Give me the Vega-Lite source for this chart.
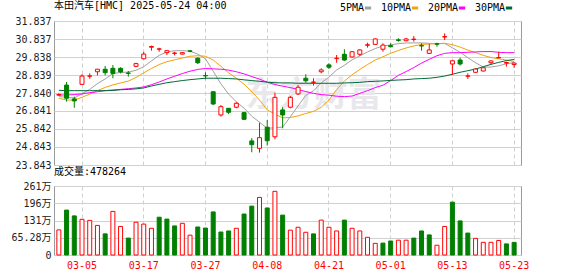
{
  "$schema": "https://vega.github.io/schema/vega-lite/v6.json",
  "background": "#ffffff",
  "padding": {"left": 10, "top": 0, "right": 5, "bottom": 0},
  "bounds": "flush",
  "spacing": 21,
  "datasets": {
    "k": [
      {"d":"02-28","o":27.72,"h":27.82,"l":27.68,"c":27.76,"v":950000,"vd":"up","5PMA":27.64,"10PMA":27.55,"20PMA":27.73,"30PMA":27.99},
      {"d":"03-03","o":28.28,"h":28.45,"l":27.36,"c":27.55,"v":1700000,"vd":"down","5PMA":27.60,"10PMA":27.45,"20PMA":27.73,"30PMA":27.97},
      {"d":"03-04","o":27.51,"h":27.64,"l":27.02,"c":27.40,"v":1480000,"vd":"down","5PMA":27.56,"10PMA":27.45,"20PMA":27.75,"30PMA":27.97},
      {"d":"03-05","o":28.32,"h":28.88,"l":28.30,"c":28.78,"v":1350000,"vd":"up","5PMA":27.80,"10PMA":27.60,"20PMA":27.79,"30PMA":27.97},
      {"d":"03-06","o":28.77,"h":28.93,"l":28.63,"c":28.79,"v":1310000,"vd":"up","5PMA":28.04,"10PMA":27.78,"20PMA":27.86,"30PMA":27.97},
      {"d":"03-07","o":29.02,"h":29.17,"l":28.82,"c":29.16,"v":1120000,"vd":"up","5PMA":28.36,"10PMA":27.97,"20PMA":27.91,"30PMA":27.97},
      {"d":"03-10","o":29.16,"h":29.34,"l":28.82,"c":28.97,"v":800000,"vd":"down","5PMA":28.62,"10PMA":28.15,"20PMA":27.97,"30PMA":27.97},
      {"d":"03-11","o":29.21,"h":29.39,"l":28.66,"c":28.93,"v":1650000,"vd":"up","5PMA":28.92,"10PMA":28.29,"20PMA":28.01,"30PMA":27.98},
      {"d":"03-12","o":29.21,"h":29.27,"l":28.93,"c":29.01,"v":1080000,"vd":"up","5PMA":28.98,"10PMA":28.40,"20PMA":28.04,"30PMA":28.02},
      {"d":"03-13","o":28.95,"h":29.06,"l":28.75,"c":28.93,"v":640000,"vd":"down","5PMA":29.00,"10PMA":28.50,"20PMA":28.08,"30PMA":28.04},
      {"d":"03-14","o":29.32,"h":29.52,"l":29.27,"c":29.47,"v":1240000,"vd":"up","5PMA":29.10,"10PMA":28.70,"20PMA":28.12,"30PMA":28.07},
      {"d":"03-17","o":29.74,"h":30.12,"l":29.71,"c":30.00,"v":1170000,"vd":"up","5PMA":29.30,"10PMA":28.96,"20PMA":28.18,"30PMA":28.12},
      {"d":"03-18","o":30.38,"h":30.47,"l":30.19,"c":30.42,"v":1010000,"vd":"up","5PMA":29.62,"10PMA":29.20,"20PMA":28.30,"30PMA":28.23},
      {"d":"03-19","o":30.27,"h":30.35,"l":30.13,"c":30.29,"v":1430000,"vd":"down","5PMA":29.93,"10PMA":29.42,"20PMA":28.45,"30PMA":28.32},
      {"d":"03-20","o":30.08,"h":30.23,"l":29.95,"c":30.19,"v":1360000,"vd":"down","5PMA":30.12,"10PMA":29.58,"20PMA":28.62,"30PMA":28.41},
      {"d":"03-21","o":30.04,"h":30.13,"l":29.93,"c":30.06,"v":1100000,"vd":"down","5PMA":30.19,"10PMA":29.68,"20PMA":28.77,"30PMA":28.47},
      {"d":"03-24","o":30.00,"h":30.10,"l":29.98,"c":30.08,"v":1200000,"vd":"up","5PMA":30.19,"10PMA":29.78,"20PMA":28.92,"30PMA":28.53},
      {"d":"03-25","o":30.18,"h":30.23,"l":30.10,"c":30.16,"v":750000,"vd":"up","5PMA":30.16,"10PMA":29.88,"20PMA":29.05,"30PMA":28.58},
      {"d":"03-26","o":29.77,"h":29.82,"l":29.45,"c":29.52,"v":1060000,"vd":"down","5PMA":30.00,"10PMA":29.91,"20PMA":29.15,"30PMA":28.62},
      {"d":"03-27","o":28.81,"h":28.99,"l":28.60,"c":28.79,"v":1020000,"vd":"down","5PMA":29.74,"10PMA":29.88,"20PMA":29.20,"30PMA":28.66},
      {"d":"03-28","o":27.91,"h":27.93,"l":27.17,"c":27.23,"v":1630000,"vd":"down","5PMA":29.05,"10PMA":29.67,"20PMA":29.18,"30PMA":28.66},
      {"d":"03-31","o":26.62,"h":27.17,"l":26.53,"c":27.08,"v":870000,"vd":"down","5PMA":28.35,"10PMA":29.32,"20PMA":29.16,"30PMA":28.66},
      {"d":"04-01","o":26.99,"h":27.00,"l":26.67,"c":26.77,"v":910000,"vd":"down","5PMA":27.78,"10PMA":28.96,"20PMA":29.11,"30PMA":28.64},
      {"d":"04-02","o":27.05,"h":27.33,"l":26.99,"c":27.27,"v":1010000,"vd":"up","5PMA":27.35,"10PMA":28.66,"20PMA":29.02,"30PMA":28.62},
      {"d":"04-03","o":26.75,"h":26.80,"l":26.34,"c":26.38,"v":1550000,"vd":"down","5PMA":27.00,"10PMA":28.33,"20PMA":28.90,"30PMA":28.57},
      {"d":"04-04","o":25.18,"h":25.33,"l":24.55,"c":24.97,"v":1850000,"vd":"down","5PMA":26.55,"10PMA":27.92,"20PMA":28.75,"30PMA":28.53},
      {"d":"04-07","o":24.77,"h":26.19,"l":24.53,"c":25.36,"v":2180000,"vd":"up","5PMA":26.22,"10PMA":27.45,"20PMA":28.61,"30PMA":28.49},
      {"d":"04-08","o":25.94,"h":26.34,"l":24.92,"c":25.19,"v":1780000,"vd":"down","5PMA":25.88,"10PMA":26.90,"20PMA":28.44,"30PMA":28.44},
      {"d":"04-09","o":25.41,"h":27.86,"l":25.27,"c":27.60,"v":2410000,"vd":"up","5PMA":25.91,"10PMA":26.67,"20PMA":28.31,"30PMA":28.41},
      {"d":"04-10","o":26.90,"h":27.05,"l":25.88,"c":26.62,"v":1510000,"vd":"down","5PMA":25.95,"10PMA":26.46,"20PMA":28.22,"30PMA":28.40},
      {"d":"04-11","o":27.05,"h":27.67,"l":26.99,"c":27.60,"v":940000,"vd":"up","5PMA":26.52,"10PMA":26.48,"20PMA":28.14,"30PMA":28.40},
      {"d":"04-14","o":27.79,"h":28.28,"l":27.73,"c":28.16,"v":1050000,"vd":"up","5PMA":27.12,"10PMA":26.57,"20PMA":28.04,"30PMA":28.38},
      {"d":"04-15","o":28.66,"h":28.88,"l":28.41,"c":28.52,"v":860000,"vd":"up","5PMA":27.71,"10PMA":26.70,"20PMA":27.92,"30PMA":28.38},
      {"d":"04-16","o":28.43,"h":28.66,"l":28.25,"c":28.45,"v":800000,"vd":"down","5PMA":27.96,"10PMA":26.82,"20PMA":27.82,"30PMA":28.38},
      {"d":"04-17","o":29.02,"h":29.21,"l":28.93,"c":29.12,"v":1320000,"vd":"up","5PMA":28.40,"10PMA":27.05,"20PMA":27.75,"30PMA":28.38},
      {"d":"04-21","o":29.40,"h":29.49,"l":29.17,"c":29.27,"v":1050000,"vd":"up","5PMA":28.72,"10PMA":27.45,"20PMA":27.72,"30PMA":28.38},
      {"d":"04-22","o":29.75,"h":29.95,"l":29.52,"c":29.77,"v":910000,"vd":"up","5PMA":29.12,"10PMA":28.03,"20PMA":27.66,"30PMA":28.38},
      {"d":"04-23","o":29.99,"h":30.27,"l":29.63,"c":29.67,"v":1320000,"vd":"down","5PMA":29.38,"10PMA":28.50,"20PMA":27.64,"30PMA":28.40},
      {"d":"04-24","o":29.84,"h":30.15,"l":29.82,"c":30.13,"v":1010000,"vd":"up","5PMA":29.68,"10PMA":28.85,"20PMA":27.67,"30PMA":28.41},
      {"d":"04-25","o":29.99,"h":30.27,"l":29.89,"c":30.23,"v":910000,"vd":"up","5PMA":29.90,"10PMA":29.15,"20PMA":27.82,"30PMA":28.43},
      {"d":"04-28","o":30.49,"h":30.63,"l":30.36,"c":30.52,"v":670000,"vd":"up","5PMA":30.12,"10PMA":29.42,"20PMA":27.97,"30PMA":28.47},
      {"d":"04-29","o":30.54,"h":30.87,"l":30.52,"c":30.84,"v":440000,"vd":"up","5PMA":30.31,"10PMA":29.67,"20PMA":28.14,"30PMA":28.49},
      {"d":"04-30","o":30.27,"h":30.60,"l":30.13,"c":30.50,"v":450000,"vd":"down","5PMA":30.45,"10PMA":29.85,"20PMA":28.27,"30PMA":28.51},
      {"d":"05-01","o":30.47,"h":30.60,"l":30.37,"c":30.41,"v":530000,"vd":"down","5PMA":30.51,"10PMA":30.05,"20PMA":28.53,"30PMA":28.54},
      {"d":"05-02","o":30.79,"h":30.88,"l":30.69,"c":30.76,"v":560000,"vd":"up","5PMA":30.58,"10PMA":30.20,"20PMA":28.82,"30PMA":28.56},
      {"d":"05-05","o":30.74,"h":30.90,"l":30.72,"c":30.84,"v":560000,"vd":"up","5PMA":30.62,"10PMA":30.34,"20PMA":29.03,"30PMA":28.58},
      {"d":"05-06","o":30.81,"h":31.00,"l":30.69,"c":30.83,"v":640000,"vd":"down","5PMA":30.62,"10PMA":30.45,"20PMA":29.25,"30PMA":28.62},
      {"d":"05-07","o":30.47,"h":30.60,"l":30.19,"c":30.45,"v":910000,"vd":"down","5PMA":30.62,"10PMA":30.54,"20PMA":29.50,"30PMA":28.64},
      {"d":"05-08","o":30.04,"h":30.56,"l":30.02,"c":30.23,"v":760000,"vd":"down","5PMA":30.60,"10PMA":30.56,"20PMA":29.71,"30PMA":28.66},
      {"d":"05-09","o":30.57,"h":30.63,"l":30.41,"c":30.55,"v":370000,"vd":"up","5PMA":30.57,"10PMA":30.58,"20PMA":29.91,"30PMA":28.71},
      {"d":"05-12","o":30.95,"h":31.15,"l":30.78,"c":30.97,"v":1080000,"vd":"up","5PMA":30.59,"10PMA":30.60,"20PMA":30.04,"30PMA":28.78},
      {"d":"05-13","o":29.45,"h":29.65,"l":28.84,"c":29.63,"v":2000000,"vd":"down","5PMA":30.35,"10PMA":30.52,"20PMA":30.08,"30PMA":28.88},
      {"d":"05-14","o":29.67,"h":29.80,"l":29.36,"c":29.45,"v":1290000,"vd":"down","5PMA":30.10,"10PMA":30.39,"20PMA":30.08,"30PMA":28.99},
      {"d":"05-15","o":28.77,"h":28.93,"l":28.62,"c":28.79,"v":830000,"vd":"down","5PMA":29.80,"10PMA":30.22,"20PMA":30.10,"30PMA":29.08},
      {"d":"05-16","o":28.99,"h":29.21,"l":28.96,"c":29.17,"v":630000,"vd":"up","5PMA":29.52,"10PMA":30.08,"20PMA":30.12,"30PMA":29.17},
      {"d":"05-19","o":29.06,"h":29.26,"l":29.04,"c":29.24,"v":480000,"vd":"up","5PMA":29.28,"10PMA":29.93,"20PMA":30.14,"30PMA":29.30},
      {"d":"05-20","o":29.52,"h":29.64,"l":29.43,"c":29.62,"v":480000,"vd":"up","5PMA":29.28,"10PMA":29.81,"20PMA":30.14,"30PMA":29.43},
      {"d":"05-21","o":29.79,"h":30.13,"l":29.78,"c":29.81,"v":550000,"vd":"up","5PMA":29.35,"10PMA":29.74,"20PMA":30.10,"30PMA":29.54},
      {"d":"05-22","o":29.50,"h":29.58,"l":29.30,"c":29.53,"v":420000,"vd":"down","5PMA":29.46,"10PMA":29.67,"20PMA":30.08,"30PMA":29.64},
      {"d":"05-23","o":29.42,"h":29.53,"l":29.24,"c":29.50,"v":478264,"vd":"down","5PMA":29.53,"10PMA":29.58,"20PMA":30.08,"30PMA":29.70}
    ]
  },
  "vconcat": [
    {
      "width": 467,
      "height": 144,
      "title": {"text": "本田汽车[HMC] 2025-05-24 04:00", "offset": 5, "frame": "group"},
      "data": {"name": "k"},
      "encoding": {
        "x": {
          "field": "d", "type": "ordinal",
          "scale": {"type": "band", "paddingInner": 0, "paddingOuter": 0.26, "align": 0.25},
          "axis": {"values": ["03-05","03-17","03-27","04-08","04-21","05-01","05-13","05-23"], "labels": false, "grid": true, "gridDash": [4, 3]}
        }
      },
      "layer": [
        {
          "data": {"values": [{}]},
          "mark": {"type": "text", "text": "东方财富", "fontSize": 34, "fontWeight": "bold", "font": "Noto Sans CJK SC", "color": "#e8e8ec"},
          "encoding": {"x": {"datum": "04-16"}, "y": {"datum": 27.7, "type": "quantitative"}}
        },
        {
          "transform": [{"fold": ["5PMA", "10PMA", "20PMA", "30PMA"], "as": ["ma", "val"]}],
          "mark": {"type": "line", "strokeWidth": 1},
          "encoding": {
            "y": {
              "field": "val", "type": "quantitative",
              "scale": {"domain": [23.843, 31.837], "zero": false, "nice": false},
              "axis": {"values": [23.843, 24.843, 25.842, 26.841, 27.84, 28.839, 29.838, 30.837, 31.837], "tickCount": 20, "format": ".3f", "grid": true, "labelOverlap": false, "labelBound": false}
            },
            "color": {
              "field": "ma", "type": "nominal",
              "scale": {"domain": ["5PMA", "10PMA", "20PMA", "30PMA"], "range": ["#a0a0a0", "#f0a30a", "#ff00ff", "#006a35"]},
              "legend": {
                "orient": "none", "legendX": 309, "legendY": -18, "direction": "horizontal", "title": null,
                "symbolType": "stroke", "symbolStrokeWidth": 3, "symbolSize": 40,
                "labelAlign": "right", "labelOffset": -9, "columnPadding": 2,
                "labelFont": "DejaVu Sans Mono", "labelFontSize": 10, "labelColor": "#000000"
              }
            }
          }
        },
        {
          "mark": {"type": "rule", "strokeWidth": 1},
          "encoding": {
            "y": {"field": "l", "type": "quantitative"},
            "y2": {"field": "h"},
            "color": {"condition": {"test": "datum.c >= datum.o", "value": "#ff0000"}, "value": "#008000"}
          }
        },
        {
          "mark": {"type": "bar", "width": 4, "strokeWidth": 1},
          "encoding": {
            "y": {"field": "o", "type": "quantitative"},
            "y2": {"field": "c"},
            "fill": {"condition": {"test": "datum.c >= datum.o", "value": "#ffffff"}, "value": "#008000"},
            "stroke": {"condition": {"test": "datum.c >= datum.o", "value": "#ff0000"}, "value": "#008000"}
          }
        }
      ]
    },
    {
      "width": 467,
      "height": 69,
      "title": {"text": "成交量:478264", "offset": 4, "frame": "group"},
      "data": {"name": "k"},
      "mark": {"type": "bar", "width": 4, "strokeWidth": 1},
      "encoding": {
        "x": {
          "field": "d", "type": "ordinal",
          "scale": {"type": "band", "paddingInner": 0, "paddingOuter": 0.26, "align": 0.25},
          "axis": {"values": ["03-05","03-17","03-27","04-08","04-21","05-01","05-13","05-23"], "labelColor": "#ff0000", "labelAngle": 0, "grid": true, "gridDash": [4, 3], "labelPadding": 5}
        },
        "y": {
          "field": "v", "type": "quantitative",
          "scale": {"domain": [0, 2611200], "nice": false},
          "axis": {"values": [0, 652800, 1305600, 1958400, 2611200], "tickCount": 10, "labelExpr": "datum.value == 0 ? '0' : datum.value == 652800 ? '65.28万' : format(datum.value / 10000, '.0f') + '万'", "grid": true, "labelOverlap": false}
        },
        "fill": {"condition": {"test": "datum.vd == 'up'", "value": "#ffffff"}, "value": "#008000"},
        "stroke": {"condition": {"test": "datum.vd == 'up'", "value": "#ff0000"}, "value": "#008000"}
      }
    }
  ],
  "config": {
    "view": {"stroke": "#999999", "strokeWidth": 1},
    "axis": {
      "labelFont": "DejaVu Sans Mono, Noto Sans CJK SC", "labelFontSize": 10, "labelColor": "#222222",
      "ticks": false, "domain": false, "gridColor": "#d0d0d0", "title": null,
      "labelOverlap": false, "labelFlush": false, "labelPadding": 3
    },
    "title": {"font": "DejaVu Sans Mono, Noto Sans CJK SC", "fontSize": 10, "fontWeight": "normal", "anchor": "start", "color": "#000000"}
  }
}
